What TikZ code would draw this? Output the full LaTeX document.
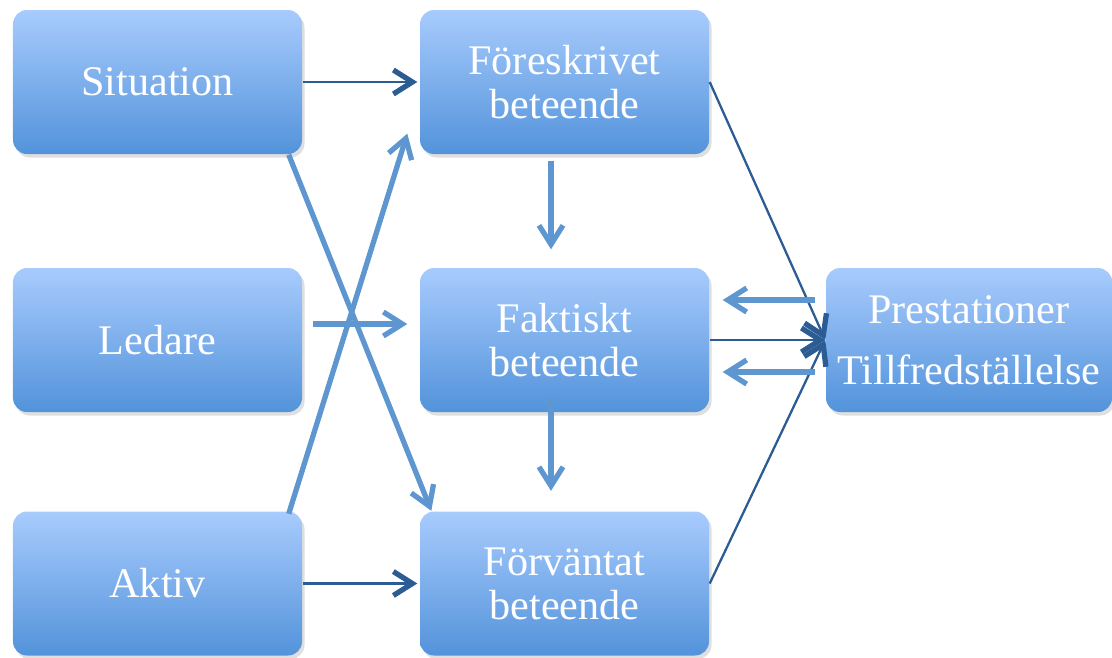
\documentclass[tikz,border=0pt]{standalone}
\usepackage{fontspec}
\setmainfont{Liberation Serif}
\usepackage{xcolor}
\usetikzlibrary{arrows.meta,positioning,calc,shadows}
\definecolor{boxtop}{HTML}{A8CBFD}
\definecolor{boxbot}{HTML}{5393DB}
\definecolor{darkarr}{HTML}{2B5C94}
\definecolor{lightarr}{HTML}{5E96D0}
\begin{document}
\begin{tikzpicture}[
  every node/.style={font=\fontsize{12}{12.5}\selectfont},
  bx/.style={rounded corners=4pt,minimum width=2.89cm,minimum height=1.44cm,
    inner sep=0pt,align=center,text=white,top color=boxtop,bottom color=boxbot,
    draw=none,drop shadow={opacity=0.25,shadow xshift=0.025cm,shadow yshift=-0.035cm}},
  thin/.style={darkarr,line width=0.65pt,-{Straight Barb[length=1.9mm,width=2.4mm,line width=1.5pt]}},
  thn/.style={darkarr,line width=0.65pt},
  thk/.style={lightarr,line width=1.5pt,-{Straight Barb[length=1.9mm,width=2.4mm,line width=1.5pt]}}]
 \useasboundingbox (0,0) rectangle (11.12,6.57);
 % left column
 \node[bx] (sit) at (1.575,5.75) {Situation};
 \node[bx] (led) at (1.575,3.17) {Ledare};
 \node[bx] (akt) at (1.575,0.735) {Aktiv};
 % middle column
 \node[bx] (fore) at (5.645,5.75) {Föreskrivet\\beteende};
 \node[bx] (fakt) at (5.645,3.17) {Faktiskt\\beteende};
 \node[bx] (forv) at (5.645,0.735) {Förväntat\\beteende};
 % outcome
 \node[bx,minimum width=2.86cm] (pres) at (9.69,3.17) {Prestationer\\[0.17cm]Tillfredställelse};
 % inputs
 \draw[thin] (sit.east) -- ([xshift=-0.02cm]fore.west);
 \draw[thin] (akt.east) -- ([xshift=-0.02cm]forv.west);
 \draw[thk] ([xshift=0.1cm,yshift=0.16cm]led.east) -- ([xshift=-0.12cm,yshift=0.16cm]fakt.west);
 \draw[thk] ([xshift=-0.14cm]sit.south east) -- ([xshift=0.12cm]forv.north west);
 \draw[thk] ([xshift=-0.14cm,yshift=-0.03cm]akt.north east) -- ([xshift=-0.12cm,yshift=0.21cm]fore.south west);
 % down the middle
 \draw[thk] ([xshift=-0.135cm,yshift=-0.06cm]fore.south) -- ([xshift=-0.135cm,yshift=0.18cm]fakt.north);
 \draw[thk] ([xshift=-0.135cm,yshift=0.14cm]fakt.south) -- ([xshift=-0.135cm,yshift=0.2cm]forv.north);
 % to the outcome
 \foreach \a in {fore,fakt,forv} \draw[thin] (\a.east) -- (pres.west);
 \foreach \dy in {0.4,-0.32}
   \draw[thk] ([xshift=-0.1cm,yshift=\dy cm]pres.west) -- ([xshift=0.13cm,yshift=\dy cm]fakt.east);
\end{tikzpicture}
\end{document}
